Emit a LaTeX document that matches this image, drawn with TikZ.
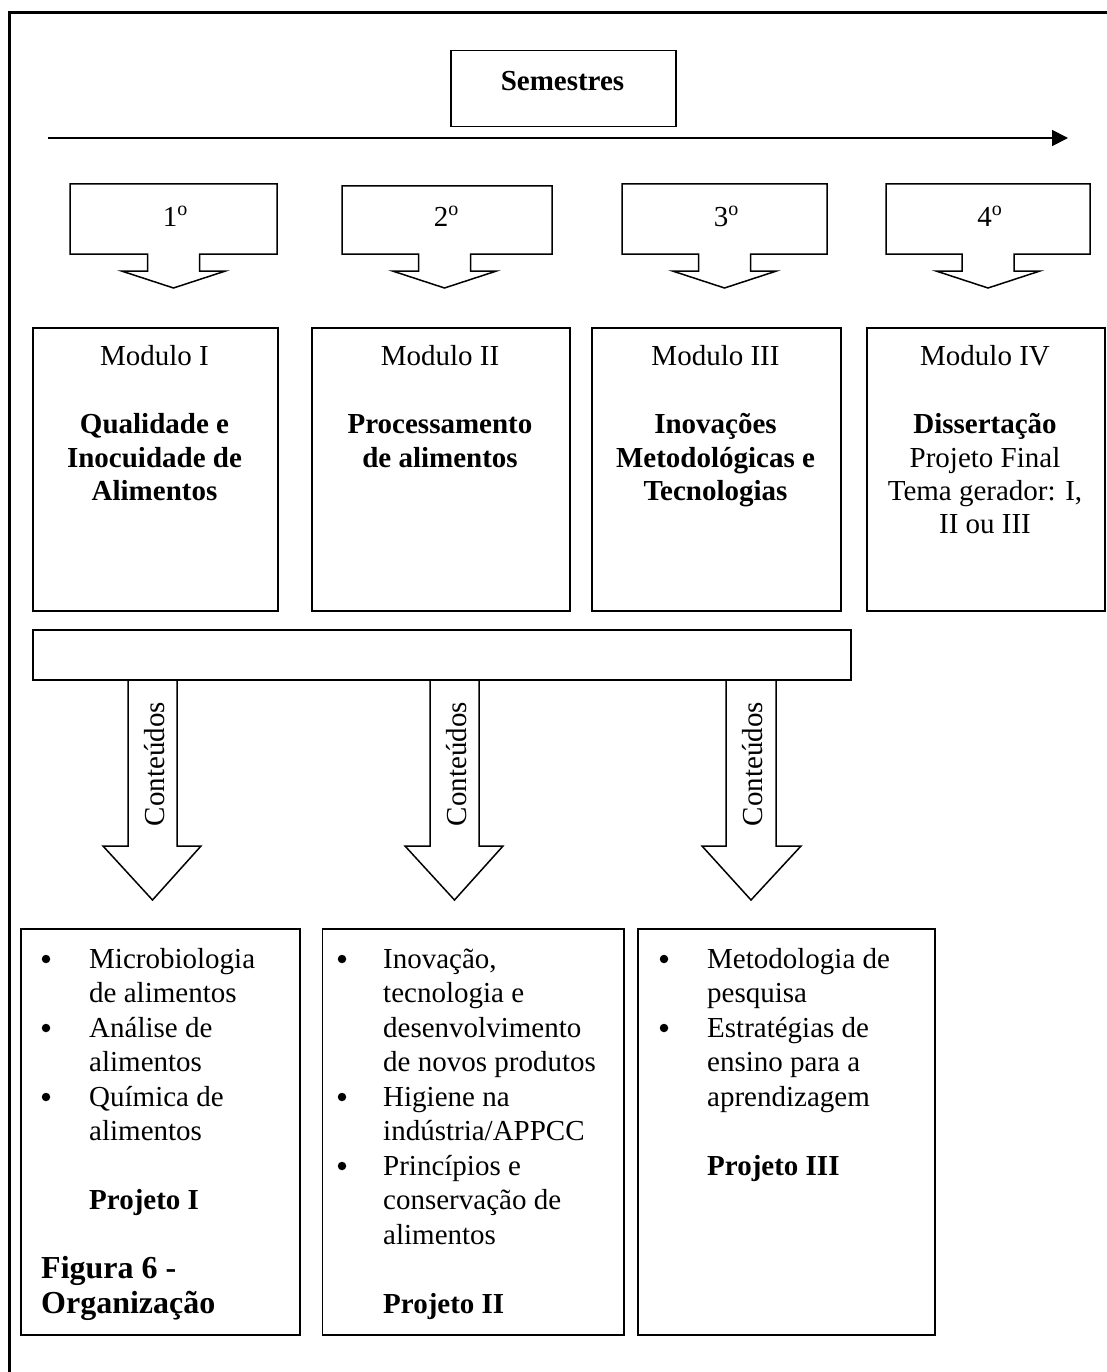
\documentclass[tikz,border=0pt]{standalone}
\usepackage{fontspec}
\setmainfont{Liberation Serif}
\usetikzlibrary{arrows.meta}
\begin{document}
\begin{tikzpicture}[x=1pt,y=-1pt,
  line/.style={draw, line width=1.5pt},
  rbox/.style={line, inner sep=0pt, anchor=north west},
  txt/.style={inner sep=0pt, font=\fontsize{29}{34.5}\selectfont},
  btxt/.style={inner sep=0pt, font=\fontsize{29}{34.5}\selectfont\bfseries},
  bigb/.style={inner sep=0pt, font=\fontsize{32}{34.5}\selectfont\bfseries},
  ctr/.style={anchor=base},
  lft/.style={anchor=base west},
  bul/.style={circle, fill=black, inner sep=0pt, minimum size=8.5pt},
]
\useasboundingbox (0,0) rectangle (1107,1372);
\clip (0,0) rectangle (1107,1372);
\draw[line width=3pt] (9,12.7) rectangle (1140,1400);

% Semestres
\node[rbox, minimum width=225pt, minimum height=76pt] (semb) at (450,50) {};
\node[btxt, ctr] (semt) at (562.5,90.5) {Semestres};

% timeline arrow
\coordinate (a0) at (48,138);
\coordinate (a1) at (1068,138);
\draw[line width=1.8pt, -{Triangle[length=16pt,width=16pt]}] (a0) -- (a1);

% semester callouts
\foreach \n/\L/\R/\c/\t in {1/70/277/173.5/184, 2/342/552/444.5/186, 3/622/827/724.5/184, 4/886/1090/988/184}{
  \draw[line, line join=miter] (\L,\t) -- (\R,\t) -- (\R,254) -- ({\c+26},254) -- ({\c+26},271) -- ({\c+52},271)
     -- (\c,288) -- ({\c-52},271) -- ({\c-26},271) -- ({\c-26},254) -- (\L,254) -- cycle;
  \node[txt, ctr] (sem\n) at ({\c+1.5},226) {\n\raisebox{10.5pt}{\fontsize{20}{20}\selectfont o}};
}

% module boxes
\node[rbox, minimum width=245pt, minimum height=283pt] (m1) at (32,327) {};
\node[rbox, minimum width=258pt, minimum height=283pt] (m2) at (311,327) {};
\node[rbox, minimum width=249pt, minimum height=283pt] (m3) at (591,327) {};
\node[rbox, minimum width=238pt, minimum height=283pt] (m4) at (866,327) {};

\node[txt, ctr] (m1a) at (154.5,365) {Modulo I};
\node[btxt, ctr] (m1b) at (154.5,433) {Qualidade e};
\node[btxt, ctr] (m1c) at (154.5,467) {Inocuidade de};
\node[btxt, ctr] (m1d) at (154.5,500) {Alimentos};

\node[txt, ctr] (m2a) at (440,365) {Modulo II};
\node[btxt, ctr] (m2b) at (440,433) {Processamento};
\node[btxt, ctr] (m2c) at (440,467) {de alimentos};

\node[txt, ctr] (m3a) at (715.5,365) {Modulo III};
\node[btxt, ctr] (m3b) at (715.5,433) {Inovações};
\node[btxt, ctr] (m3c) at (715.5,467) {Metodológicas e};
\node[btxt, ctr] (m3d) at (715.5,500) {Tecnologias};

\node[txt, ctr] (m4a) at (985,365) {Modulo IV};
\node[btxt, ctr] (m4b) at (985,433) {Dissertação};
\node[txt, ctr] (m4c) at (985,467) {Projeto Final};
\node[txt, ctr] (m4d) at (985,500) {Tema gerador: I,};
\node[txt, ctr] (m4e) at (985,533) {II ou III};

% bar
\node[rbox, minimum width=818pt, minimum height=50pt] (bar) at (32,629) {};

% content arrows
\foreach \k/\a/\b/\wa/\wb/\tp in {1/128/177/103/201/152.5, 2/430/479/405/503/454.5, 3/726/776/702/801/751}{
  \draw[line, line join=miter] (\a,679) -- (\a,846) -- (\wa,846) -- (\tp,900) -- (\wb,846) -- (\b,846) -- (\b,679);
  \node[txt, rotate=90] (ct\k) at ({\tp+2},764) {Conteúdos};
}

% bottom boxes
\node[rbox, minimum width=279pt, minimum height=406pt] (b1) at (20,928) {};
\node[rbox, minimum width=301.5pt, minimum height=406pt] (b2) at (321.5,928) {};
\node[rbox, minimum width=297pt, minimum height=406pt] (b3) at (637,928) {};

% box 1
\node[bul] (b1u1) at (46,959) {};
\node[bul] (b1u2) at (46,1028) {};
\node[bul] (b1u3) at (46,1097) {};
\node[txt, lft] (b1l0) at (89,968) {Microbiologia};
\node[txt, lft] (b1l1) at (89,1002.5) {de alimentos};
\node[txt, lft] (b1l2) at (89,1037) {Análise de};
\node[txt, lft] (b1l3) at (89,1071.5) {alimentos};
\node[txt, lft] (b1l4) at (89,1106) {Química de};
\node[txt, lft] (b1l5) at (89,1140.5) {alimentos};
\node[btxt, lft] (b1p) at (89,1209.5) {Projeto I};
\node[bigb, lft] (fig1) at (41,1278.5) {Figura 6 -};
\node[bigb, lft] (fig2) at (41,1313) {Organização};

% box 2
\node[bul] (b2u1) at (342,959) {};
\node[bul] (b2u2) at (342,1097) {};
\node[bul] (b2u3) at (342,1166) {};
\node[txt, lft] (b2l0) at (383,968) {Inovação,};
\node[txt, lft] (b2l1) at (383,1002.5) {tecnologia e};
\node[txt, lft] (b2l2) at (383,1037) {desenvolvimento};
\node[txt, lft] (b2l3) at (383,1071.5) {de novos produtos};
\node[txt, lft] (b2l4) at (383,1106) {Higiene na};
\node[txt, lft] (b2l5) at (383,1140.5) {indústria/APPCC};
\node[txt, lft] (b2l6) at (383,1175) {Princípios e};
\node[txt, lft] (b2l7) at (383,1209.5) {conservação de};
\node[txt, lft] (b2l8) at (383,1244) {alimentos};
\node[btxt, lft] (b2p) at (383,1313) {Projeto II};

% box 3
\node[bul] (b3u1) at (664,959) {};
\node[bul] (b3u2) at (664,1028) {};
\node[txt, lft] (b3l0) at (707,968) {Metodologia de};
\node[txt, lft] (b3l1) at (707,1002.5) {pesquisa};
\node[txt, lft] (b3l2) at (707,1037) {Estratégias de};
\node[txt, lft] (b3l3) at (707,1071.5) {ensino para a};
\node[txt, lft] (b3l4) at (707,1106) {aprendizagem};
\node[btxt, lft] (b3p) at (707,1175) {Projeto III};
\end{tikzpicture}
\end{document}
